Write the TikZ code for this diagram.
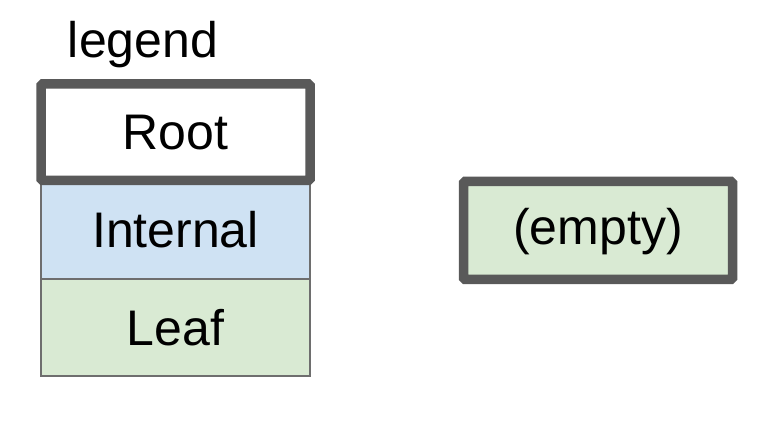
\documentclass[tikz,border=0pt]{standalone}
\usepackage{fontspec}
\setmainfont{Liberation Sans}
\definecolor{bordergray}{HTML}{595959}
\definecolor{thingray}{HTML}{6E6E6E}
\definecolor{internalblue}{HTML}{CFE2F3}
\definecolor{leafgreen}{HTML}{D9EAD3}
\begin{document}
\begin{tikzpicture}[x=1pt,y=1pt,
  lbl/.style={font=\fontsize{50}{60}\selectfont, inner sep=0pt},
  thinbox/.style={draw=thingray, line width=2pt, minimum width=269pt, inner sep=0pt, font=\fontsize{50}{60}\selectfont},
  thickbox/.style={draw=bordergray, line width=9.5pt, rounded corners=1.5pt, minimum width=269pt, inner sep=0pt, font=\fontsize{50}{60}\selectfont}]
\useasboundingbox (0,0) rectangle (766,-438);
\node[lbl, anchor=base] (legend) at (143,-58) {legend};
\node[thinbox, fill=internalblue, minimum height=98pt] (internal) at (175.5,-230) {Internal};
\node[thinbox, fill=leafgreen, minimum height=97pt] (leaf) at (175.5,-327.5) {Leaf};
\node[thickbox, fill=white, minimum height=96.5pt] (root) at (175.5,-132.25) {Root};
\node[thickbox, fill=leafgreen, minimum height=98pt, text height=40pt, text depth=11pt] (empty) at (598,-230.5) {(empty)};
\end{tikzpicture}
\end{document}
